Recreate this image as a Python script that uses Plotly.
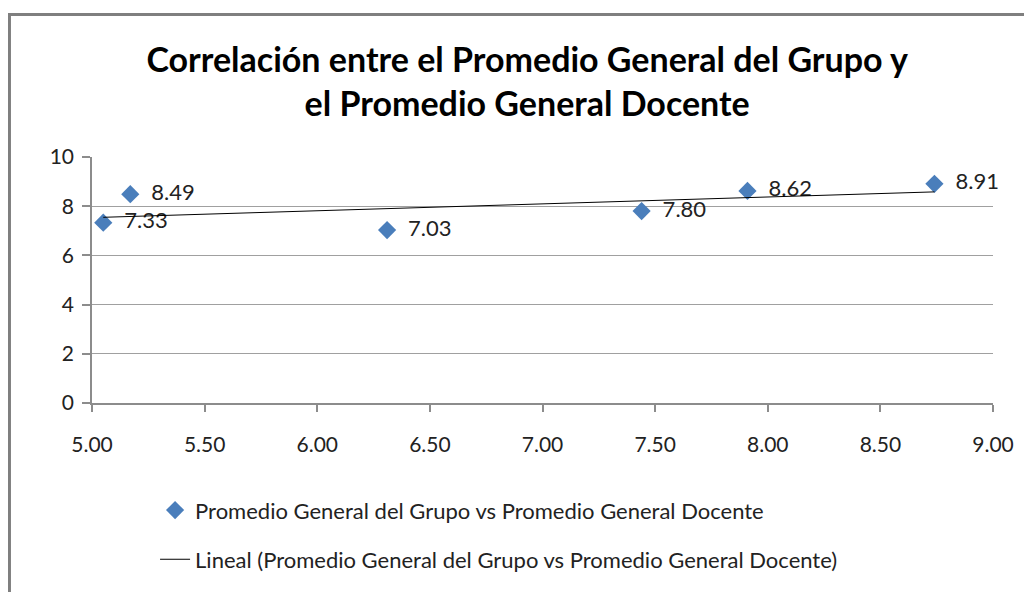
import numpy as np
import plotly.graph_objects as go

# Data
grupo = [5.05, 5.17, 6.31, 7.44, 7.91, 8.74]
docente = [7.33, 8.49, 7.03, 7.80, 8.62, 8.91]
etiquetas = ["7.33", "8.49", "7.03", "7.80", "8.62", "8.91"]
x_ticks = [5.00, 5.50, 6.00, 6.50, 7.00, 7.50, 8.00, 8.50, 9.00]
y_ticks = [0, 2, 4, 6, 8, 10]

serie_nombre = "Promedio General del Grupo vs Promedio General Docente"
tend_nombre = "Lineal (Promedio General del Grupo vs Promedio General Docente)"
titulo = "Correlación entre el Promedio General del Grupo y<br>el Promedio General Docente"

# Linear trendline (least squares from the data)
m, b = np.polyfit(grupo, docente, 1)
tx = [min(grupo), max(grupo)]
ty = [m * v + b for v in tx]

FONT = "Lato"
fig = go.Figure()
fig.add_trace(go.Scatter(
    x=grupo, y=docente, mode="markers+text",
    text=["  " + t for t in etiquetas], textposition="middle right",
    textfont=dict(family=FONT, size=22, color="#222"),
    marker=dict(symbol="diamond", size=14, color="#4a7ebb"),
    name=serie_nombre, legend="legend", cliponaxis=False,
))
fig.add_trace(go.Scatter(
    x=tx, y=ty, mode="lines", line=dict(color="black", width=1),
    name=tend_nombre, legend="legend2",
))

fig.update_layout(
    width=1024, height=584,
    margin=dict(l=84, r=39, t=149, b=187),
    paper_bgcolor="white", plot_bgcolor="white",
    font=dict(family=FONT, color="#222"),
    title=dict(text=titulo, x=0.507, xanchor="center", y=0.891, yanchor="top",
               yref="container",
               font=dict(family=FONT, size=34, color="black", weight="bold")),
    showlegend=True,
    legend=dict(x=0.07, y=-0.436, xanchor="left", yanchor="middle",
                font=dict(family=FONT, size=22, color="#222"),
                bgcolor="rgba(0,0,0,0)"),
    legend2=dict(x=0.07, y=-0.636, xanchor="left", yanchor="middle",
                 font=dict(family=FONT, size=22, color="#222"),
                 bgcolor="rgba(0,0,0,0)", itemwidth=30),
)
fig.update_xaxes(
    range=[5, 9], tickvals=x_ticks, tickformat=".2f",
    showgrid=False, zeroline=False, automargin=False,
    showline=True, linecolor="#8c8c8c", linewidth=1.5,
    ticks="outside", ticklen=7, tickcolor="#8c8c8c", tickwidth=1.5,
    ticklabelstandoff=15,
    tickfont=dict(family=FONT, size=21, color="#222"),
)
fig.update_yaxes(
    range=[0, 10], tickvals=y_ticks, automargin=False,
    showgrid=True, gridcolor="#a0a0a0", gridwidth=1, zeroline=False,
    showline=True, linecolor="#8c8c8c", linewidth=1.5,
    ticks="outside", ticklen=8, tickcolor="#8c8c8c", tickwidth=1.5,
    ticklabelstandoff=4,
    tickfont=dict(family=FONT, size=21, color="#222"),
)
# Chart border
fig.add_shape(type="rect", xref="paper", yref="paper",
              x0=-0.0916, y0=-1.2, x1=1.2, y1=1.579,
              line=dict(color="#7f7f7f", width=3), layer="below")

fig.write_html("out.html")
